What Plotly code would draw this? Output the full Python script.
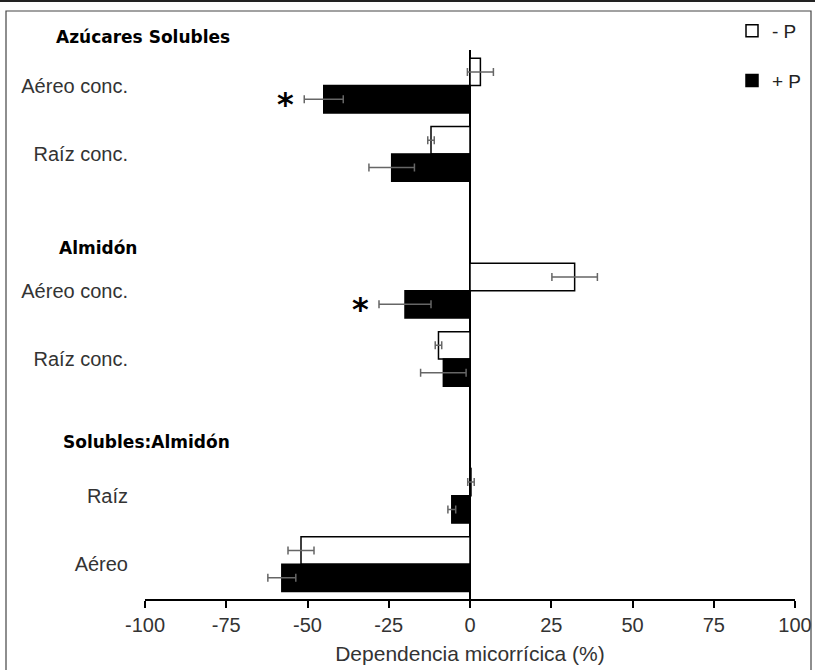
import plotly.graph_objects as go

# ---- data ----
group_names = ["Azúcares Solubles", "Almidón", "Solubles:Almidón"]
item_labels = ["Aéreo conc.", "Raíz conc.", "Aéreo conc.", "Raíz conc.", "Raíz", "Aéreo"]
item_group = [0, 0, 1, 1, 2, 2]
minus_p = [3.2, -12.0, 32.2, -9.7, 0.3, -52.0]
minus_p_err = [4.0, 1.0, 7.0, 1.0, 1.0, 4.0]
plus_p = [-45.0, -24.1, -20.0, -8.2, -5.6, -57.9]
plus_p_err = [6.0, 7.0, 8.0, 7.0, 1.2, 4.3]
plus_p_signif = [True, False, True, False, False, False]
x_ticks = [-100, -75, -50, -25, 0, 25, 50, 75, 100]
x_ticktext = ["-100", "-75", "-50", "-25", "0", "25", "50", "75", "100"]
x_title = "Dependencia micorrícica (%)"

# ---- layout constants ----
W, H = 815, 670
ML, MR, MT, MB = 145, 20, 50, 71
PW, PH = W - ML - MR, H - MT - MB


def px_x(px):
    return (px - ML) / PW


def px_y(py):
    return (H - MB - py) / PH


# slot positions: one empty slot between groups
slots_per_group = max(item_group.count(g) for g in range(len(group_names))) + 1
pos = []
for i, g in enumerate(item_group):
    k = item_group[:i].count(g)
    pos.append(g * slots_per_group + k)

label_font = "Liberation Sans, Arial, sans-serif"
header_font = "DejaVu Sans, sans-serif"
header_px = [(54, 37), (57, 248), (61, 442)]

fig = go.Figure()
fig.add_trace(go.Bar(
    y=pos, x=minus_p, orientation="h", name="- P",
    marker=dict(color="white", line=dict(color="black", width=1.5)),
    error_x=dict(type="data", array=minus_p_err, color="#666666", thickness=1.5, width=4),
    legendgroup="a",
))
fig.add_trace(go.Bar(
    y=pos, x=plus_p, orientation="h", name="+ P",
    marker=dict(color="black", line=dict(color="black", width=1.5)),
    error_x=dict(type="data", array=plus_p_err, color="#666666", thickness=1.5, width=4),
    legendgroup="b",
))

annotations = []
for (hx, hy), name in zip(header_px, group_names):
    annotations.append(dict(
        text=name, xref="paper", yref="paper", x=px_x(hx), y=px_y(hy),
        xanchor="left", yanchor="middle", showarrow=False,
        font=dict(family=header_font, size=17, color="black", weight="bold"),
    ))
for p, v, e, s in zip(pos, plus_p, plus_p_err, plus_p_signif):
    if s:
        annotations.append(dict(
            text="*", xref="x", yref="y", x=v - e, y=p + 0.2,
            xanchor="right", yanchor="middle", xshift=-8, yshift=-5, showarrow=False,
            font=dict(family="DejaVu Sans, sans-serif", size=32, color="black", weight="bold"),
        ))

shapes = [
    dict(type="line", xref="paper", yref="paper", x0=px_x(0), x1=px_x(W), y0=px_y(1), y1=px_y(1),
         line=dict(color="#222222", width=2)),
    dict(type="rect", xref="paper", yref="paper", x0=px_x(6), x1=px_x(811), y0=px_y(11), y1=px_y(690),
         line=dict(color="#444444", width=1.2)),
]

fig.update_layout(
    width=W, height=H,
    margin=dict(l=ML, r=MR, t=MT, b=MB, autoexpand=False),
    paper_bgcolor="white", plot_bgcolor="white",
    barmode="group", bargap=0.2, bargroupgap=0,
    showlegend=True,
    legend=dict(
        x=px_x(732), y=px_y(12), xanchor="left", yanchor="top",
        font=dict(family=label_font, size=19, color="#222222"),
        tracegroupgap=22, itemwidth=30, bgcolor="rgba(0,0,0,0)", traceorder="grouped",
    ),
    annotations=annotations,
    shapes=shapes,
    xaxis=dict(
        range=[-100, 100], tickmode="array", tickvals=x_ticks, ticktext=x_ticktext,
        showgrid=False, zeroline=True, zerolinecolor="black", zerolinewidth=1.5,
        showline=True, linecolor="black", linewidth=1.5,
        ticks="outside", ticklen=7, tickwidth=1.5, tickcolor="black",
        tickfont=dict(family=label_font, size=20, color="#333333"),
        title=dict(text=x_title, font=dict(family=label_font, size=21, color="#333333"), standoff=12),
    ),
    yaxis=dict(
        range=[7.51, -0.52], tickmode="array", tickvals=pos, ticktext=item_labels,
        showgrid=False, zeroline=False, showline=False, ticks="",
        ticklabelstandoff=16,
        tickfont=dict(family=label_font, size=20, color="#333333"),
    ),
)

fig.write_html(
    "out.html",
    config={"displayModeBar": False},
    post_script=(
        "document.body.style.margin='0';"
        "document.body.style.overflow='hidden';"
        "document.documentElement.style.overflow='hidden';"
    ),
)
